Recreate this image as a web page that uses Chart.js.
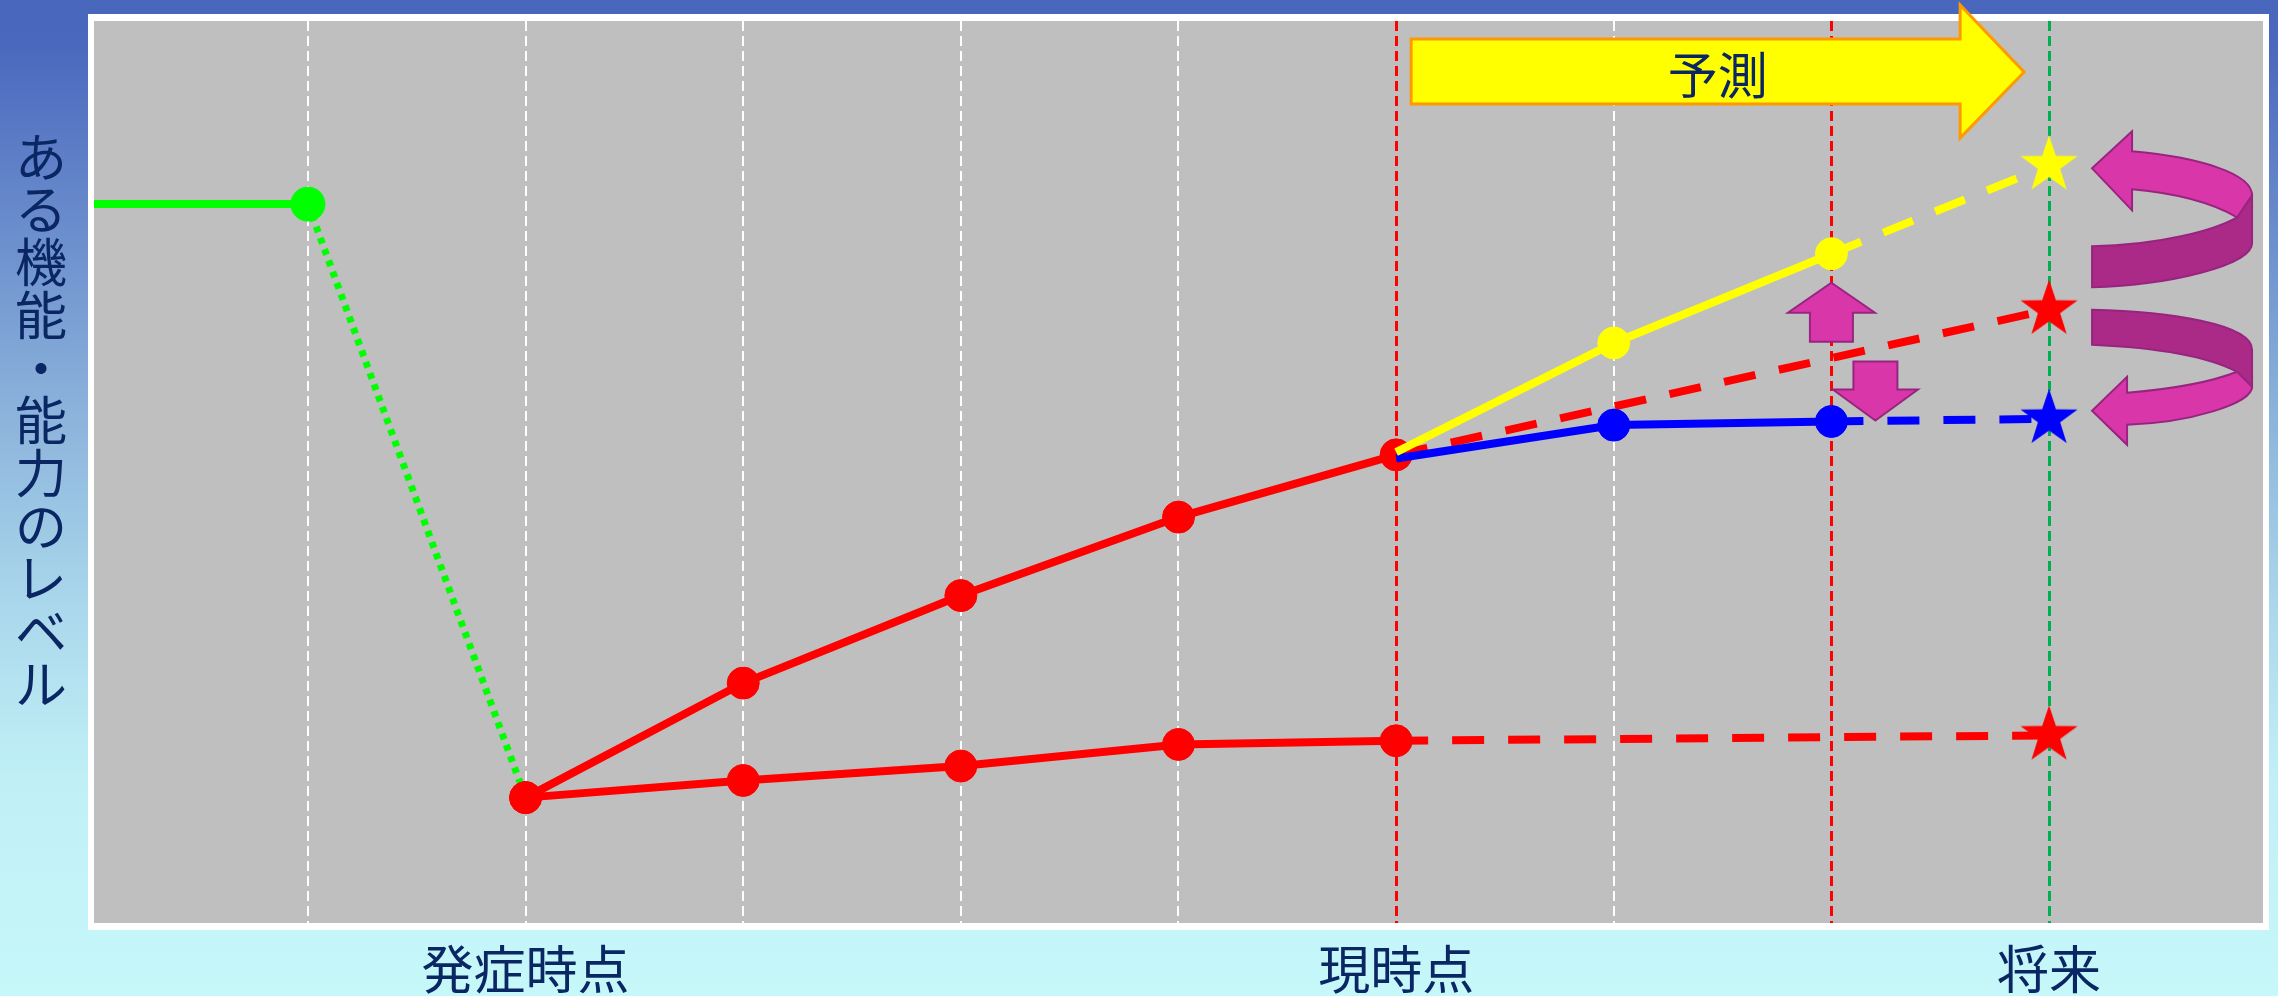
<!DOCTYPE html>
<html lang="ja">
<head>
<meta charset="UTF-8">
<title>ある機能・能力のレベルの経過と予測</title>
<script src="https://cdn.jsdelivr.net/npm/chart.js@4.4.1/dist/chart.umd.min.js"></script>
<style>
  html, body { margin: 0; padding: 0; }
  #wrap { width: 2278px; height: 996px; }
</style>
</head>
<body>
<div id="wrap"><canvas id="level-chart"></canvas></div>
<script>
// 横軸の目盛り (1目盛り = 1期間) と表示するラベル
const gridTicks = [1, 2, 3, 4, 5, 6, 7, 8, 9];
const tickLabels = { 2: '発症時点', 6: '現時点', 9: '将来' };
const yTitle = 'ある機能・能力のレベル';
const forecastText = '予測';

// 縦軸は 0〜100 の相対値
// 発症前
const preX = [0, 1];
const preY = [79.7, 79.7];
// 発症による低下
const onsetX = [1, 2];
const onsetY = [79.7, 13.9];
// 順調に回復した経過
const recoverX = [2, 3, 4, 5, 6];
const recoverY = [13.9, 26.6, 36.3, 45.0, 51.9];
// 回復が進まなかった経過
const stallX = [2, 3, 4, 5, 6];
const stallY = [13.9, 15.8, 17.4, 19.8, 20.2];
// 現時点以降: さらに改善
const upX = [6, 7, 8];
const upY = [52.2, 64.3, 74.2];
// 現時点以降: 横ばい
const flatX = [6, 7, 8];
const flatY = [51.5, 55.2, 55.6];
// 将来の予測 (破線＋星)
const predUpX = [8, 9];
const predUpY = [74.2, 84.0];
const predMidX = [6, 9];
const predMidY = [51.9, 68.0];
const predFlatX = [8, 9];
const predFlatY = [55.6, 55.9];
const predStallX = [6, 9];
const predStallY = [20.2, 20.8];

const FONT = "'Noto Sans CJK JP', 'Noto Sans', sans-serif";
const TEXT_COLOR = '#0A2763';
const LINE_W = 8;

const pts = (xs, ys) => xs.map((x, i) => ({ x: x, y: ys[i] }));

// 星形マーカー
function makeStar(color, r) {
    const c = document.createElement('canvas');
    const size = Math.ceil(r * 2) + 4;
    c.width = size;
    c.height = size;
    const g = c.getContext('2d');
    g.translate(size / 2, size / 2);
    g.beginPath();
    for (let i = 0; i < 10; i++) {
        const rad = i % 2 ? r * 0.39 : r;
        const a = -Math.PI / 2 + i * Math.PI / 5;
        g.lineTo(Math.cos(a) * rad, Math.sin(a) * rad);
    }
    g.closePath();
    g.fillStyle = color;
    g.fill();
    return c;
}

const starYellow = makeStar('#FFFF00', 30);
const starRed = makeStar('#FF0000', 30);
const starBlue = makeStar('#0000FF', 30);

function solidLine(data, color, radii, order) {
    return {
        data: data,
        borderColor: color,
        backgroundColor: color,
        borderWidth: LINE_W,
        pointRadius: radii,
        pointBorderWidth: 1,
        pointBackgroundColor: color,
        pointBorderColor: color,
        tension: 0,
        order: order
    };
}

function dashedLine(data, color, star, order) {
    return {
        data: data,
        borderColor: color,
        backgroundColor: color,
        borderWidth: LINE_W,
        borderDash: [32, 24],
        borderCapStyle: 'butt',
        pointRadius: [0, 30],
        pointStyle: ['circle', star],
        tension: 0,
        order: order
    };
}

const datasets = [
    solidLine(pts(upX, upY), '#FFFF00', [0, 16, 16], 1),
    solidLine(pts(flatX, flatY), '#0000FF', [0, 16, 16], 2),
    dashedLine(pts(predUpX, predUpY), '#FFFF00', starYellow, 3),
    dashedLine(pts(predFlatX, predFlatY), '#0000FF', starBlue, 3),
    dashedLine(pts(predMidX, predMidY), '#FF0000', starRed, 4),
    dashedLine(pts(predStallX, predStallY), '#FF0000', starRed, 4),
    solidLine(pts(recoverX, recoverY), '#FF0000', 16, 5),
    solidLine(pts(stallX, stallY), '#FF0000', 16, 5),
    Object.assign(solidLine(pts(preX, preY), '#00FF00', [0, 17], 6), { clip: 0 }),
    Object.assign(solidLine(pts(onsetX, onsetY), '#00FF00', 0, 7), {
        borderWidth: 7,
        borderDash: [6, 6],
        borderCapStyle: 'butt'
    })
];

function gridColor(v) {
    if (v === 6 || v === 8) return '#FF0000';
    if (v === 9) return '#00B050';
    return '#FFFFFF';
}

// 矢印
function blockArrowV(ctx, cx, tipY, baseY, endY, headHalf, shaftHalf) {
    ctx.beginPath();
    ctx.moveTo(cx, tipY);
    ctx.lineTo(cx + headHalf, baseY);
    ctx.lineTo(cx + shaftHalf, baseY);
    ctx.lineTo(cx + shaftHalf, endY);
    ctx.lineTo(cx - shaftHalf, endY);
    ctx.lineTo(cx - shaftHalf, baseY);
    ctx.lineTo(cx - headHalf, baseY);
    ctx.closePath();
    ctx.fill();
    ctx.stroke();
}

const PINK = '#D936AA';
const PINK_DARK = '#AB2987';
const PINK_EDGE = '#972580';

function curvedArrowUpper(ctx, ax, ay) {
    ctx.fillStyle = PINK_DARK;
    ctx.beginPath();
    ctx.moveTo(ax + 203, ay + 30);
    ctx.lineTo(ax + 203, ay + 78);
    ctx.bezierCurveTo(ax + 203, ay + 100, ax + 120, ay + 120, ax + 43, ay + 122);
    ctx.lineTo(ax + 43, ay + 81);
    ctx.bezierCurveTo(ax + 110, ay + 80, ax + 165, ay + 65, ax + 188, ay + 52);
    ctx.closePath();
    ctx.fill();
    ctx.stroke();

    ctx.fillStyle = PINK;
    ctx.beginPath();
    ctx.moveTo(ax + 43, ay + 3);
    ctx.lineTo(ax + 83, ay - 34);
    ctx.lineTo(ax + 83, ay - 14);
    ctx.bezierCurveTo(ax + 150, ay - 8, ax + 203, ay + 8, ax + 203, ay + 30);
    ctx.lineTo(ax + 188, ay + 52);
    ctx.quadraticCurveTo(ax + 150, ay + 30, ax + 83, ay + 24);
    ctx.lineTo(ax + 83, ay + 45);
    ctx.closePath();
    ctx.fill();
    ctx.stroke();
}

function curvedArrowLower(ctx, ax, ay) {
    ctx.fillStyle = PINK_DARK;
    ctx.beginPath();
    ctx.moveTo(ax + 43, ay - 109);
    ctx.bezierCurveTo(ax + 120, ay - 107, ax + 203, ay - 95, ax + 203, ay - 69);
    ctx.lineTo(ax + 203, ay - 32);
    ctx.lineTo(ax + 188, ay - 47);
    ctx.bezierCurveTo(ax + 161, ay - 61, ax + 111, ay - 71, ax + 43, ay - 74);
    ctx.closePath();
    ctx.fill();
    ctx.stroke();

    ctx.fillStyle = PINK;
    ctx.beginPath();
    ctx.moveTo(ax + 203, ay - 32);
    ctx.bezierCurveTo(ax + 203, ay - 15, ax + 140, ay + 4, ax + 78, ay + 6);
    ctx.lineTo(ax + 78, ay + 26);
    ctx.lineTo(ax + 43, ay - 8);
    ctx.lineTo(ax + 78, ay - 42);
    ctx.lineTo(ax + 78, ay - 26);
    ctx.quadraticCurveTo(ax + 150, ay - 32, ax + 188, ay - 47);
    ctx.closePath();
    ctx.fill();
    ctx.stroke();
}

const framePlugin = {
    id: 'frame',
    beforeDraw(chart) {
        const { ctx, width, height, chartArea: a } = chart;
        ctx.save();
        const g = ctx.createLinearGradient(0, 0, 0, height);
        g.addColorStop(0, '#4766BC');
        g.addColorStop(0.05, '#4B69BE');
        g.addColorStop(0.2, '#6587CA');
        g.addColorStop(0.4, '#89B0DA');
        g.addColorStop(0.6, '#A9D6EB');
        g.addColorStop(0.78, '#C0F0F6');
        g.addColorStop(1, '#C6F7F9');
        ctx.fillStyle = g;
        ctx.fillRect(0, 0, width, height);
        // 白枠と灰色の描画領域
        ctx.fillStyle = '#FFFFFF';
        ctx.fillRect(a.left - 6, a.top - 7, a.width + 12, a.height + 14);
        ctx.fillStyle = '#BFBFBF';
        ctx.fillRect(a.left, a.top, a.width, a.height);
        ctx.restore();
    },
    afterDatasetsDraw(chart) {
        const { ctx, chartArea: a } = chart;
        const xs = chart.scales.x;
        const ys = chart.scales.y;
        const x6 = xs.getPixelForValue(6);
        const x8 = xs.getPixelForValue(8);
        const x9 = xs.getPixelForValue(9);
        ctx.save();

        // 「予測」矢印
        const left = x6 + 15, bodyEnd = x6 + 564, tip = x6 + 628;
        const t = a.top;
        ctx.beginPath();
        ctx.moveTo(left, t + 18);
        ctx.lineTo(bodyEnd, t + 18);
        ctx.lineTo(bodyEnd, t - 16);
        ctx.lineTo(tip, t + 51);
        ctx.lineTo(bodyEnd, t + 117);
        ctx.lineTo(bodyEnd, t + 83);
        ctx.lineTo(left, t + 83);
        ctx.closePath();
        ctx.fillStyle = '#FFFF00';
        ctx.fill();
        ctx.lineWidth = 3;
        ctx.strokeStyle = '#FF9900';
        ctx.lineJoin = 'miter';
        ctx.stroke();
        ctx.fillStyle = TEXT_COLOR;
        ctx.font = '50px ' + FONT;
        ctx.textAlign = 'center';
        ctx.textBaseline = 'middle';
        ctx.fillText(forecastText, (left + tip) / 2, t + 54);

        // 上下の矢印
        ctx.fillStyle = PINK;
        ctx.strokeStyle = PINK_EDGE;
        ctx.lineWidth = 2;
        const upTip = ys.getPixelForValue(upY[2]) + 29;
        blockArrowV(ctx, x8, upTip, upTip + 30, upTip + 59, 43.5, 21.5);
        const downTip = ys.getPixelForValue(flatY[2]) - 1;
        blockArrowV(ctx, x8 + 44, downTip, downTip - 31, downTip - 59, 42.5, 22);

        // 回り込む矢印
        curvedArrowUpper(ctx, x9, ys.getPixelForValue(predUpY[1]));
        curvedArrowLower(ctx, x9, ys.getPixelForValue(predFlatY[1]));
        ctx.restore();
    },
    afterDraw(chart) {
        // 縦書きの軸タイトル
        const { ctx, chartArea: a } = chart;
        ctx.save();
        ctx.fillStyle = TEXT_COLOR;
        ctx.font = '52px ' + FONT;
        ctx.textAlign = 'center';
        ctx.textBaseline = 'middle';
        const chars = Array.from(yTitle);
        chars.forEach((ch, i) => {
            ctx.fillText(ch, 41, a.top + 136 + i * 52.7);
        });
        ctx.restore();
    }
};

const chart = new Chart(document.getElementById('level-chart'), {
    type: 'line',
    data: { datasets: datasets },
    options: {
        responsive: true,
        maintainAspectRatio: false,
        animation: false,
        events: [],
        layout: {
            autoPadding: false,
            padding: { left: 94, right: 15, top: 21, bottom: 0 }
        },
        scales: {
            x: {
                type: 'linear',
                min: 0.017,
                max: 9.983,
                afterBuildTicks: scale => {
                    scale.ticks = gridTicks.map(v => ({ value: v }));
                },
                afterFit: scale => {
                    scale.height = 73;
                },
                grid: {
                    drawTicks: false,
                    color: c => gridColor(c.tick ? c.tick.value : 0),
                    lineWidth: c => (c.tick && gridColor(c.tick.value) !== '#FFFFFF') ? 3 : 2
                },
                border: { display: false, dash: [10, 5] },
                ticks: {
                    autoSkip: false,
                    maxRotation: 0,
                    padding: 15,
                    color: TEXT_COLOR,
                    font: { family: FONT, size: 52 },
                    callback: v => tickLabels[v] || ''
                }
            },
            y: {
                display: false,
                min: 0,
                max: 100
            }
        },
        plugins: {
            legend: { display: false },
            tooltip: { enabled: false }
        }
    },
    plugins: [framePlugin]
});
</script>
</body>
</html>
